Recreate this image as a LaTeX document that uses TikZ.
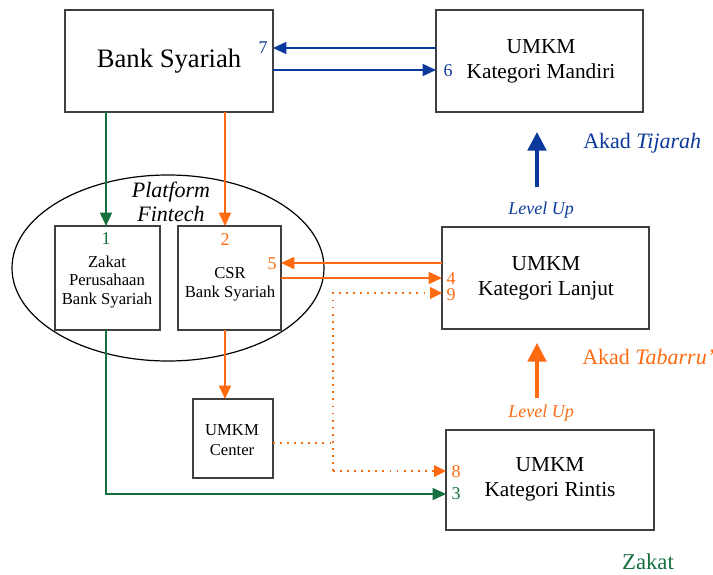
\documentclass[tikz,border=0pt]{standalone}
\usepackage{fontspec}
\setmainfont{Liberation Serif}
\usetikzlibrary{arrows.meta}
\definecolor{cblue}{HTML}{0B3A9C}
\definecolor{cgreen}{HTML}{16703E}
\definecolor{corange}{HTML}{FF6A10}
\begin{document}
\begin{tikzpicture}[x=0.75pt,y=-0.75pt,
  box/.style={draw=black!75,line width=0.9pt},
  arr/.style={line width=1.2pt,-{Triangle[length=10pt,width=9pt]}},
  bigarr/.style={line width=2.4pt,-{Triangle[length=14pt,width=14pt]}},
  num/.style={font=\fontsize{13.5}{14}\selectfont,inner sep=0pt},
  dots/.style={line width=1.4pt,dash pattern=on 1.4pt off 3.9pt}]
\useasboundingbox (0,0) rectangle (713,574);
% ellipse
\draw[line width=0.9pt] (168,268) ellipse [x radius=156, y radius=93];
\node[font=\itshape\fontsize{16.5}{18}\selectfont,align=center,inner sep=0pt] (pf) at (171,202) {Platform\\Fintech};
% boxes
\draw[box] (65,10) rectangle (273,112);
\node[font=\fontsize{20}{22}\selectfont] (bank) at (169,61) {Bank Syariah};
\draw[box] (436,10) rectangle (643,112);
\node[font=\fontsize{16}{19}\selectfont,align=center] (mandiri) at (541,61) {UMKM\\Kategori Mandiri};
\draw[box] (55,226) rectangle (160,330);
\node[font=\fontsize{12.5}{14}\selectfont,align=center] (zakat) at (107,282) {Zakat\\Perusahaan\\Bank Syariah};
\draw[box] (178,226) rectangle (281,330);
\node[font=\fontsize{12.5}{14}\selectfont,align=center] (csr) at (230,284) {CSR\\Bank Syariah};
\draw[box] (442,227) rectangle (649,329);
\node[font=\fontsize{16}{19}\selectfont,align=center] (lanjut) at (546,278) {UMKM\\Kategori Lanjut};
\draw[box] (193,399) rectangle (273,478);
\node[font=\fontsize{12.5}{15}\selectfont,align=center] (center) at (232,440) {UMKM\\Center};
\draw[box] (446,430) rectangle (654,530);
\node[font=\fontsize{16}{19}\selectfont,align=center] (rintis) at (550,479) {UMKM\\Kategori Rintis};
% coordinates
\coordinate (b7s) at (436,48); \coordinate (b7e) at (273,48);
\coordinate (b6s) at (273,70); \coordinate (b6e) at (436,70);
\coordinate (g1s) at (106,112); \coordinate (g1e) at (106,226);
\coordinate (o2s) at (225,112); \coordinate (o2e) at (225,226);
\coordinate (o5s) at (442,263); \coordinate (o5e) at (281,263);
\coordinate (o4s) at (281,278); \coordinate (o4e) at (442,278);
\coordinate (d9a) at (333,471); \coordinate (d9b) at (333,293); \coordinate (d9e) at (442,293);
\coordinate (dca) at (273,443); \coordinate (dcb) at (333,443);
\coordinate (d8e) at (446,471);
\coordinate (g3s) at (106,330); \coordinate (g3b) at (106,494); \coordinate (g3e) at (446,494);
\coordinate (ocs) at (225,330); \coordinate (oce) at (225,399);
\coordinate (bus) at (537,187); \coordinate (bue) at (537,132);
\coordinate (ous) at (537,398); \coordinate (oue) at (537,343);
% connectors
\draw[arr,cblue] (b7s) -- (b7e);
\draw[arr,cblue] (b6s) -- (b6e);
\draw[arr,cgreen] (g1s) -- (g1e);
\draw[arr,corange] (o2s) -- (o2e);
\draw[arr,corange] (o5s) -- (o5e);
\draw[arr,corange] (o4s) -- (o4e);
\draw[dots,corange] (d9a) -- (d9b) -- (432,293);
\fill[corange] (d9e) -- ++(-12,-6) -- ++(0,12) -- cycle;
\draw[dots,corange] (dca) -- (dcb);
\draw[dots,corange] (d9a) -- (436,471);
\fill[corange] (d8e) -- ++(-12,-6) -- ++(0,12) -- cycle;
\draw[arr,cgreen] (g3s) -- (g3b) -- (g3e);
\draw[arr,corange] (ocs) -- (oce);
\draw[bigarr,cblue] (bus) -- (bue);
\draw[bigarr,corange] (ous) -- (oue);
% numbers
\node[num,cblue] (n7) at (263,48) {7};
\node[num,cblue] (n6) at (448,71) {6};
\node[num,cgreen] (n1) at (106,239) {1};
\node[num,corange] (n2) at (225,240) {2};
\node[num,corange] (n5) at (272,264) {5};
\node[num,corange] (n4) at (451,279) {4};
\node[num,corange] (n9) at (451,295) {9};
\node[num,corange] (n8) at (456,472) {8};
\node[num,cgreen] (n3) at (456,494) {3};
% labels
\node[cblue,font=\itshape\fontsize{13.5}{14}\selectfont] (lu1) at (541,210) {Level Up};
\node[corange,font=\itshape\fontsize{13.5}{14}\selectfont] (lu2) at (541,413) {Level Up};
\node[cblue,font=\fontsize{16.5}{18}\selectfont,anchor=west,inner sep=0pt] (tij) at (583,143) {Akad \textit{Tijarah}};
\node[corange,font=\fontsize{16.5}{18}\selectfont,anchor=west,inner sep=0pt] (tab) at (582,357) {Akad \textit{Tabarru'}};
\node[cgreen,font=\fontsize{17}{18}\selectfont] (zk) at (648,562) {Zakat};
\end{tikzpicture}
\end{document}
